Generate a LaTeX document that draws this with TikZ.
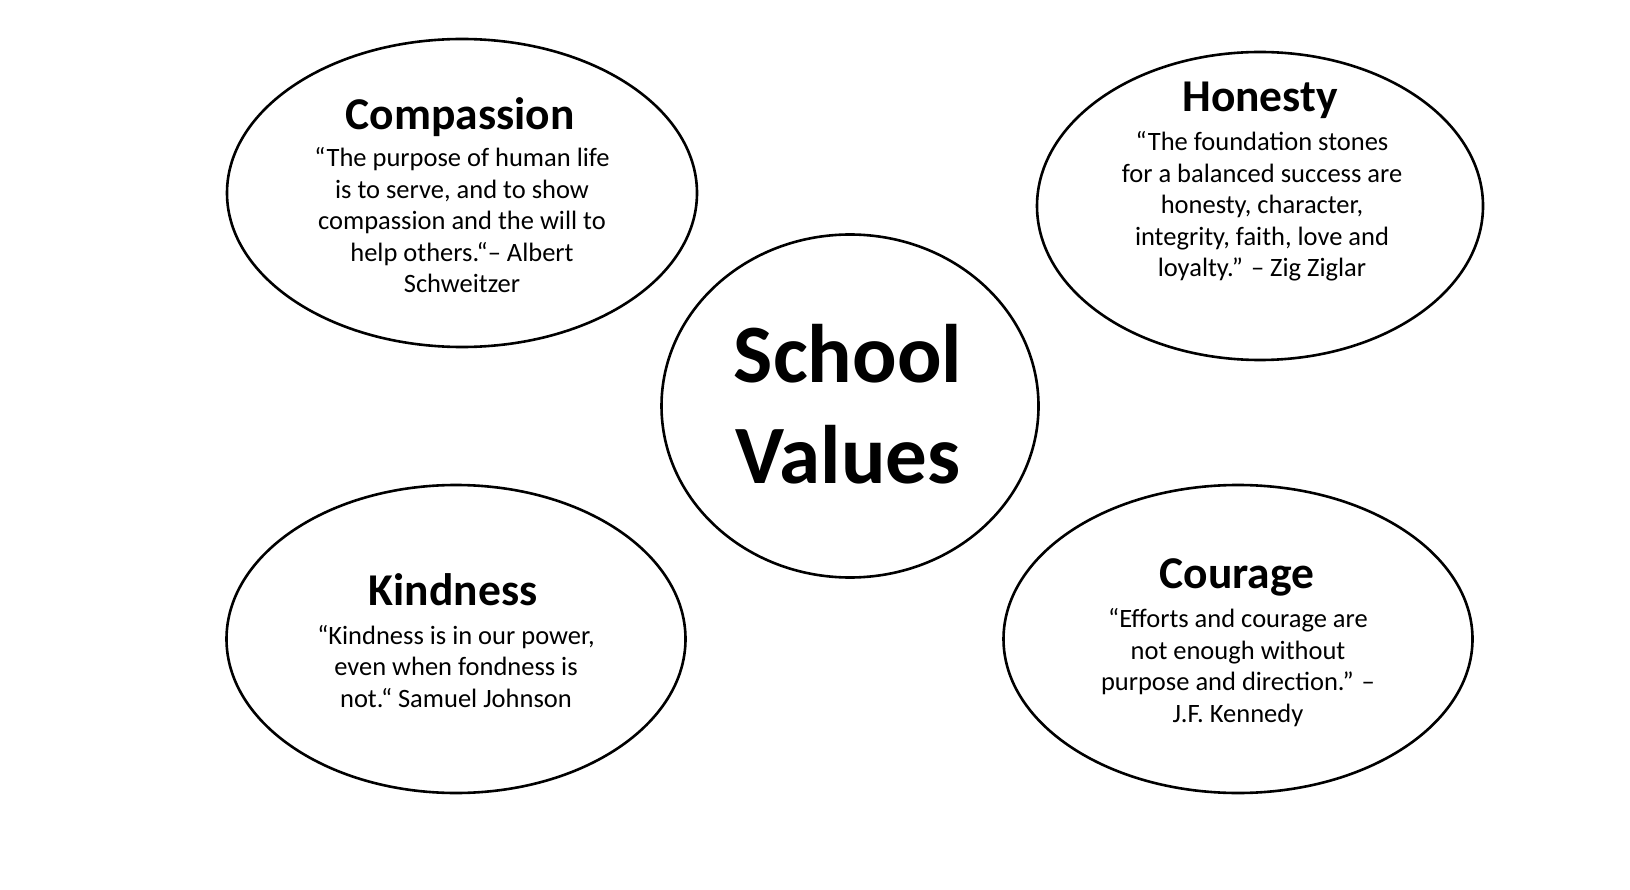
\documentclass[tikz,border=0pt]{standalone}
\usepackage{fontspec}
\setmainfont{Carlito}
\usetikzlibrary{shapes.geometric}
\tikzset{
  valring/.style={draw=black, line width=2.6pt, ellipse, inner sep=0pt},
  valtitle/.style={font=\bfseries\fontsize{45.5}{50}\selectfont, anchor=base, inner sep=0pt},
  valquote/.style={font=\fontsize{26.5}{31.5}\selectfont, align=center, anchor=base, inner sep=0pt},
  centertitle/.style={font=\bfseries\fontsize{83}{100}\selectfont, anchor=base, inner sep=0pt}
}
\begin{document}
\begin{tikzpicture}[x=1pt,y=-1pt]
\useasboundingbox[fill=white] (0,0) rectangle (1630,890);
% ellipses
\node[valring, minimum width=470pt, minimum height=308pt] (compE) at (462,193) {};
\node[valring, minimum width=446pt, minimum height=308pt] (honE) at (1260,206) {};
\node[valring, minimum width=377pt, minimum height=343pt] (schE) at (850,406) {};
\node[valring, minimum width=459pt, minimum height=308pt] (kinE) at (456,639) {};
\node[valring, minimum width=469pt, minimum height=308pt] (couE) at (1238,639) {};
% titles
\node[valtitle] (compT) at (460,130) {Compassion};
\node[valtitle] (honT) at (1260,112) {Honesty};
\node[valtitle] (kinT) at (453,605) {Kindness};
\node[valtitle] (couT) at (1237,588) {Courage};
\node[centertitle] (schT1) at (848,383) {School};
\node[centertitle] (schT2) at (848,483) {Values};
% quotes (base = last line)
\node[valquote] (compQ) at (462,293) {“The purpose of human life\\is to serve, and to show\\compassion and the will to\\help others.“– Albert\\Schweitzer};
\node[valquote] (honQ) at (1262,277) {“The foundation stones\\for a balanced success are\\honesty, character,\\integrity, faith, love and\\loyalty.” – Zig Ziglar};
\node[valquote] (kinQ) at (456,707) {“Kindness is in our power,\\even when fondness is\\not.“ Samuel Johnson};
\node[valquote] (couQ) at (1238,722) {“Efforts and courage are\\not enough without\\purpose and direction.” –\\J.F. Kennedy};
\end{tikzpicture}
\end{document}
